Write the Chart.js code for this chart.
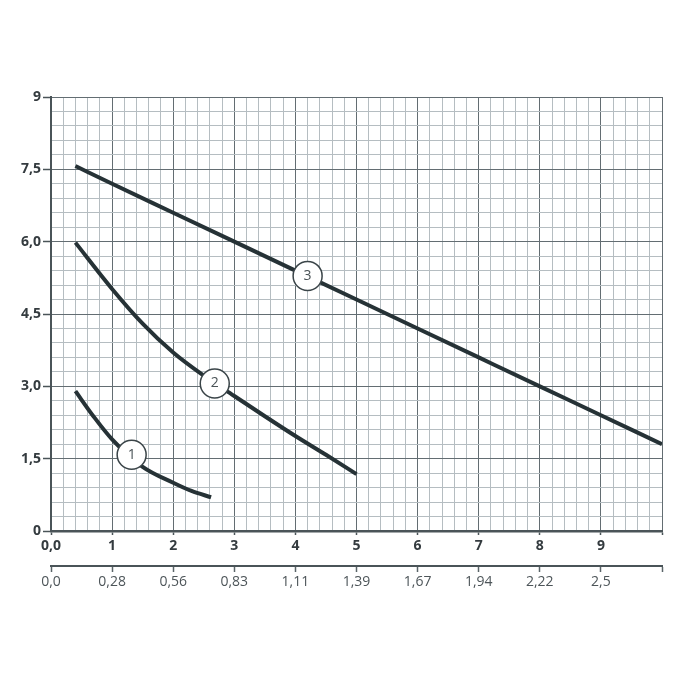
<!DOCTYPE html>
<html>
<head>
<meta charset="utf-8">
<script src="https://cdn.jsdelivr.net/npm/chart.js@4"></script>
<style>
  html, body { margin: 0; padding: 0; background: #fff; }
</style>
</head>
<body>
<canvas id="pumpChart" width="700" height="700"></canvas>
<script>
// curve data (x = flow, y = head)
const curve1X = [0.4, 0.7, 1.0, 1.5, 2.0, 2.3, 2.62]
const curve1Y = [2.9, 2.37, 1.9, 1.33, 1.0, 0.83, 0.7]
const curve2X = [0.4, 1.0, 1.5, 2.0, 2.5, 3.0, 3.5, 4.0, 4.5, 5.0]
const curve2Y = [5.98, 5.02, 4.3, 3.7, 3.22, 2.8, 2.38, 1.97, 1.58, 1.18]
const curve3X = [0.4, 1, 2, 3, 4, 5, 6, 7, 8, 9, 10]
const curve3Y = [7.57, 7.2, 6.6, 6.0, 5.4, 4.8, 4.2, 3.6, 3.0, 2.4, 1.8]

// numbered markers on the curves
const markerNames = ['1', '2', '3']
const markerX = [1.32, 2.68, 4.2]
const markerY = [1.58, 3.06, 5.29]

// tick labels
const xMainLabels = ['0,0', '1', '2', '3', '4', '5', '6', '7', '8', '9', '']
const xFlowLabels = ['0,0', '0,28', '0,56', '0,83', '1,11', '1,39', '1,67', '1,94', '2,22', '2,5', '']
const yLabels = ['0', '1,5', '3,0', '4,5', '6,0', '7,5', '9']

const lineColor = '#263236'
const majorGrid = '#636d72'
const minorGrid = '#b5bdc1'
const labelFont = '"Open Sans", "Noto Sans", sans-serif'

const toPoints = (xs, ys) => xs.map((x, i) => ({ x: x, y: ys[i] }))

const curveDataset = (xs, ys) => ({
    data: toPoints(xs, ys),
    borderColor: lineColor,
    borderWidth: 4,
    pointRadius: 0,
    fill: false,
    cubicInterpolationMode: 'monotone',
    order: 2
})

const markerLabels = {
    id: 'markerLabels',
    afterDatasetsDraw: (chart) => {
        const {ctx} = chart
        const meta = chart.getDatasetMeta(3)
        ctx.save()
        ctx.font = '14px ' + labelFont
        ctx.fillStyle = '#4a5357'
        ctx.textAlign = 'center'
        ctx.textBaseline = 'middle'
        meta.data.forEach((pt, i) => {
            ctx.fillText(markerNames[i], pt.x, pt.y)
        })
        ctx.restore()
    }
}

new Chart(document.getElementById('pumpChart'), {
    type: 'line',
    data: {
        datasets: [
            curveDataset(curve1X, curve1Y),
            curveDataset(curve2X, curve2Y),
            curveDataset(curve3X, curve3Y),
            {
                type: 'scatter',
                data: toPoints(markerX, markerY),
                pointRadius: 14.5,
                pointBackgroundColor: '#ffffff',
                pointBorderColor: '#3a4448',
                pointBorderWidth: 1.5,
                showLine: false,
                order: 0
            }
        ]
    },
    options: {
        responsive: false,
        animation: false,
        layout: {
            padding: { left: 10, top: 97, right: 38, bottom: 109 }
        },
        plugins: {
            legend: { display: false },
            tooltip: { enabled: false }
        },
        scales: {
            x: {
                type: 'linear',
                position: 'bottom',
                min: 0,
                max: 10,
                afterFit: (scale) => { scale.height = 35 },
                ticks: {
                    stepSize: 0.2,
                    autoSkip: false,
                    maxRotation: 0,
                    padding: 3,
                    color: '#343b3f',
                    font: { family: labelFont, size: 14, weight: 'bold' },
                    callback: (v, i) => i % 5 === 0 ? xMainLabels[i / 5] : ''
                },
                grid: {
                    color: (c) => c.index % 5 === 0 ? majorGrid : minorGrid,
                    lineWidth: 1,
                    tickLength: 4,
                    tickColor: (c) => c.index % 5 === 0 ? '#4a5458' : 'rgba(0,0,0,0)',
                    tickWidth: 1.5
                },
                border: { color: '#4a5458', width: 2.5 }
            },
            x2: {
                type: 'linear',
                position: 'bottom',
                min: 0,
                max: 10,
                afterFit: (scale) => { scale.height = 25 },
                ticks: {
                    stepSize: 1,
                    autoSkip: false,
                    maxRotation: 0,
                    padding: 2,
                    color: '#4d5559',
                    font: { family: labelFont, size: 14 },
                    callback: (v, i) => xFlowLabels[i]
                },
                grid: {
                    drawOnChartArea: false,
                    tickLength: 6,
                    tickColor: '#5a6468',
                    tickWidth: 1.5
                },
                border: { color: '#4a5458', width: 2 }
            },
            y: {
                type: 'linear',
                min: 0,
                max: 9,
                afterFit: (scale) => { scale.width = 41 },
                ticks: {
                    stepSize: 0.3,
                    autoSkip: false,
                    padding: 2,
                    color: '#343b3f',
                    font: { family: labelFont, size: 14, weight: 'bold' },
                    callback: (v, i) => i % 5 === 0 ? yLabels[i / 5] : ''
                },
                grid: {
                    color: (c) => c.index % 5 === 0 ? majorGrid : minorGrid,
                    lineWidth: 1,
                    tickLength: 8,
                    tickColor: (c) => c.index % 5 === 0 ? '#4a5458' : 'rgba(0,0,0,0)',
                    tickWidth: 1.5
                },
                border: { color: '#4a5458', width: 2 }
            }
        }
    },
    plugins: [markerLabels]
})
</script>
</body>
</html>
